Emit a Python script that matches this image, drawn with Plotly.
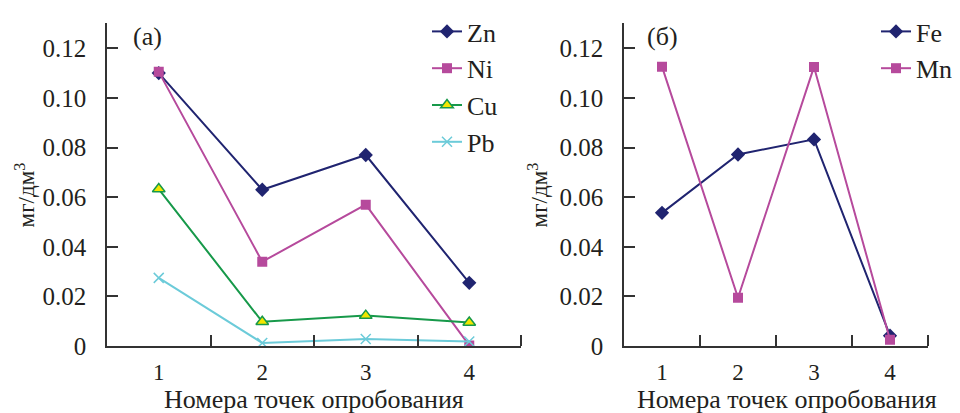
import plotly.graph_objects as go

points = [1, 2, 3, 4]
zn = [0.110, 0.063, 0.077, 0.0255]
ni = [0.1105, 0.034, 0.057, 0.0003]
cu = [0.0633, 0.0098, 0.0123, 0.0095]
pb = [0.0275, 0.0013, 0.0029, 0.0019]
fe = [0.0537, 0.0772, 0.0833, 0.0042]
mn = [0.1126, 0.0195, 0.1125, 0.0026]

ytickvals = [0, 0.02, 0.04, 0.06, 0.08, 0.10, 0.12]
yticktext = ["0", "0.02", "0.04", "0.06", "0.08", "0.10", "0.12"]
xtitle = "Номера точек опробования"
ytitle = "мг/дм<sup>3</sup>"

NAVY = "#202470"
MAG = "#b64a9c"
GREEN = "#17994a"
CYAN = "#6ccbd9"
FONT = "Liberation Serif"
TXT = "#231f20"

fig = go.Figure()

def add(y, name, color, symbol, xa, ya, legend, size=10, fill=None, lw=0):
    fig.add_trace(go.Scatter(
        x=points, y=y, name=name, mode="lines+markers",
        xaxis=xa, yaxis=ya, legend=legend, legendgroup=name,
        line=dict(color=color, width=2),
        marker=dict(symbol=symbol, size=size, color=fill or color,
                    line=dict(color=color, width=lw)),
    ))

add(zn, "Zn", NAVY, "diamond", "x", "y", "legend", size=11)
add(ni, "Ni", MAG, "square", "x", "y", "legend", size=10)
add(cu, "Cu", GREEN, "triangle-up", "x", "y", "legend", size=11, fill="#f2e600", lw=1.5)
add(pb, "Pb", CYAN, "x-thin-open", "x", "y", "legend", size=10, lw=1.5)
add(fe, "Fe", NAVY, "diamond", "x2", "y2", "legend2", size=11)
add(mn, "Mn", MAG, "square", "x2", "y2", "legend2", size=10)

W, H = 960, 413
ydom = [(H - 350) / H, (H - 16) / H]

xcommon = dict(
    range=[0.5, 4.5], tickmode="array", tickvals=points, ticks="",
    showline=True, linecolor="#333", linewidth=1.5, showgrid=False, zeroline=False,
    tickfont=dict(family=FONT, size=23, color=TXT), ticklabelstandoff=5,
    minor=dict(tickmode="array", tickvals=[1.5, 2.5, 3.5, 4.5], ticks="inside",
               ticklen=11, tickcolor="#333", tickwidth=1.5),
)
ycommon = dict(
    range=[0, 0.13], tickmode="array", tickvals=ytickvals, ticktext=yticktext,
    ticks="inside", ticklen=11, tickcolor="#333", tickwidth=1.5,
    showline=True, linecolor="#333", linewidth=1.5, showgrid=False, zeroline=False,
    tickfont=dict(family=FONT, size=25, color=TXT), ticklabelstandoff=14,
    domain=ydom,
)

fig.update_layout(
    width=W, height=H, margin=dict(l=0, r=0, t=0, b=0),
    paper_bgcolor="white", plot_bgcolor="white",
    font=dict(family=FONT, size=24, color=TXT),
    xaxis={**xcommon, "domain": [99 / W, 513 / W], "anchor": "y"},
    yaxis={**ycommon, "anchor": "x"},
    xaxis2={**xcommon, "domain": [616 / W, 920 / W], "anchor": "y2"},
    yaxis2={**ycommon, "anchor": "x2"},
    legend=dict(x=419 / W, y=1.0, xanchor="left", yanchor="top",
                font=dict(family=FONT, size=26, color=TXT),
                traceorder="grouped", tracegroupgap=0, bgcolor="rgba(0,0,0,0)"),
    legend2=dict(x=868 / W, y=1.0, xanchor="left", yanchor="top",
                 font=dict(family=FONT, size=26, color=TXT),
                 traceorder="grouped", tracegroupgap=0, bgcolor="rgba(0,0,0,0)"),
    showlegend=True,
)

ann_font = dict(family=FONT, size=26, color=TXT)
fig.add_annotation(text=xtitle, x=306 / W, y=1 - 405 / H, xref="paper", yref="paper",
                   showarrow=False, font=ann_font, xanchor="center", yanchor="middle")
fig.add_annotation(text=xtitle, x=779 / W, y=1 - 405 / H, xref="paper", yref="paper",
                   showarrow=False, font=ann_font, xanchor="center", yanchor="middle")
fig.add_annotation(text=ytitle, x=17 / W, y=1 - 194 / H, xref="paper", yref="paper",
                   showarrow=False, font=dict(family=FONT, size=23, color=TXT), textangle=-90,
                   xanchor="center", yanchor="middle")
fig.add_annotation(text=ytitle, x=530 / W, y=1 - 194 / H, xref="paper", yref="paper",
                   showarrow=False, font=dict(family=FONT, size=23, color=TXT), textangle=-90,
                   xanchor="center", yanchor="middle")
fig.add_annotation(text="(а)", x=123 / W, y=1 - 30 / H, xref="paper", yref="paper",
                   showarrow=False, font=ann_font, xanchor="left", yanchor="middle")
fig.add_annotation(text="(б)", x=637 / W, y=1 - 30 / H, xref="paper", yref="paper",
                   showarrow=False, font=ann_font, xanchor="left", yanchor="middle")

fig.write_html("out.html")
